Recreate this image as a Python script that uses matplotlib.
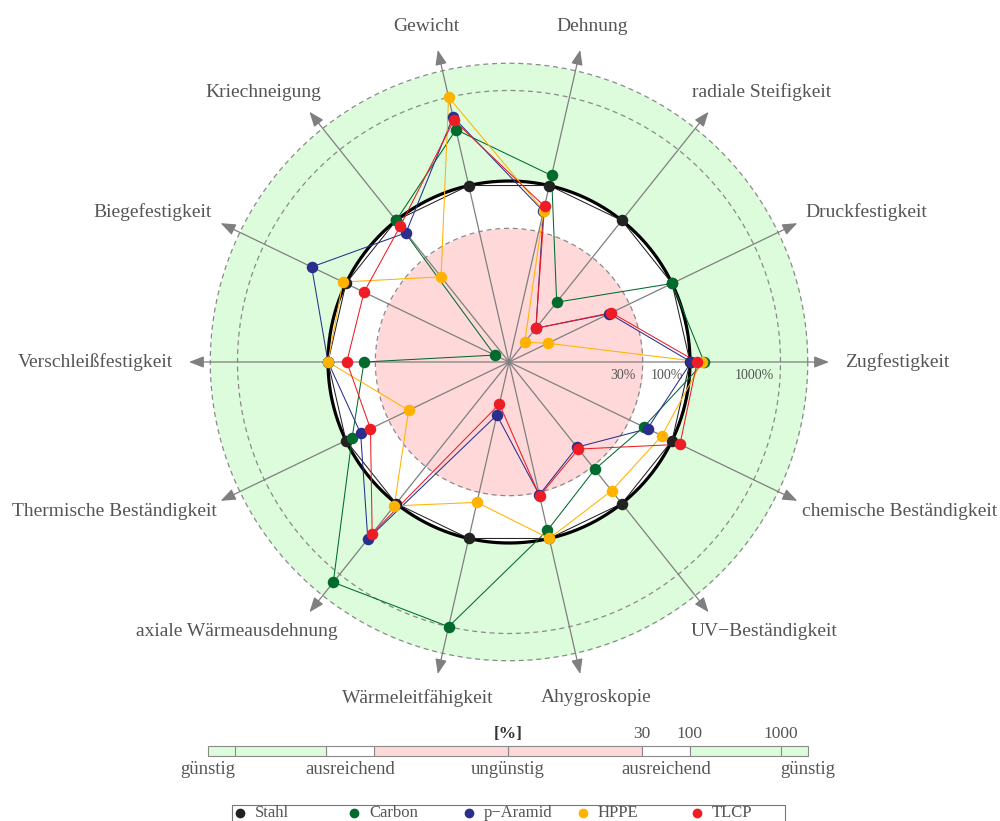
import numpy as np
import matplotlib.pyplot as plt
from matplotlib.lines import Line2D
from matplotlib.patches import Rectangle

plt.rcParams['font.family'] = ['Liberation Serif', 'DejaVu Serif']

# Kriterien (gegen den Uhrzeigersinn, ab 0°)
kriterien = ['Zugfestigkeit', 'Druckfestigkeit', 'radiale Steifigkeit', 'Dehnung',
             'Gewicht', 'Kriechneigung', 'Biegefestigkeit', 'Verschleißfestigkeit',
             'Thermische Beständigkeit', 'axiale Wärmeausdehnung', 'Wärmeleitfähigkeit',
             'Ahygroskopie', 'UV\u2212Beständigkeit', 'chemische Beständigkeit']

# Werte in % (Stahl = 100 %)
stahl  = [100, 100, 100, 100, 100, 100, 100, 100, 100, 100, 100, 100, 100, 100]
carbon = [143, 100, 7, 130, 430, 100, 1.5, 40, 84, 1300, 1000, 81, 33, 45]
aramid = [103, 17, 3, 51, 600, 67, 263, 100, 66, 318, 4, 32, 16, 50]
hppe   = [135, 3, 1.9, 52, 1000, 16, 109, 100, 17, 108, 39, 100, 66, 75]
tlcp   = [120, 18, 3, 58, 550, 84, 60, 62, 50, 266, 3, 33, 17, 125]

werkstoffe = ['Stahl', 'Carbon', 'p\u2212Aramid', 'HPPE', 'TLCP']
farben = ['#222222', '#006b2d', '#2b2e8c', '#ffb300', '#ee1c24']
serien = [stahl, carbon, aramid, hppe, tlcp]

grau = '#8a8a8a'
textgrau = '#555555'
gruen = '#dcfcdc'
rosa = '#ffd9d9'

fig = plt.figure(figsize=(10, 8.21), dpi=100)
ax = fig.add_axes([0.147, 97 / 821, 0.724, 724 / 821], projection='polar')
ax.set_rscale('log')
ax.set_rlim(1, 1e4)
ax.set_axis_off()

theta = np.deg2rad(np.arange(len(kriterien)) * 360 / len(kriterien))
th = np.linspace(0, 2 * np.pi, 500)

# Bereiche: ungünstig / ausreichend / günstig
ax.fill_between(th, 100, 2000, color=gruen, lw=0, zorder=0)
ax.fill_between(th, 30, 100, color='white', lw=0, zorder=0)
ax.fill_between(th, 1, 30, color=rosa, lw=0, zorder=0)
for v in [30, 1000, 2000]:
    ax.plot(th, np.full_like(th, v), ls=(0, (4, 3)), color=grau, lw=0.9, zorder=1)
ax.plot(th, np.full_like(th, 100), color='black', lw=2.3, zorder=3)

# Achsen mit Pfeilen
for t in theta:
    ax.annotate('', xy=(t, 3435), xytext=(t, 1),
                arrowprops=dict(arrowstyle='-|>,head_length=0.9,head_width=0.35',
                                color='#7f7f7f', lw=0.9, shrinkA=0, shrinkB=0),
                zorder=2)

for v, txt in [(30, '30%'), (100, '100%'), (1000, '1000%')]:
    ax.annotate(txt, xy=(0, v), xytext=(-5, -9.5), textcoords='offset points',
                ha='right', va='center', fontsize=10, color=textgrau)

# Datenreihen
for werte, farbe in zip(serien, farben):
    r = np.append(werte, werte[0])
    t = np.append(theta, theta[0])
    ax.plot(t, r, color=farbe, lw=0.75, zorder=4)
for werte, farbe in zip(serien, farben):
    ax.plot(theta, werte, 'o', color=farbe, ms=8.3, mec='none', zorder=5)

# Beschriftungen der Achsen
anns = []
for t, name in zip(theta, kriterien):
    a = ax.annotate(name, xy=(t, 5160), xytext=(0, 0), textcoords='offset points',
                    ha='center', va='center', fontsize=14, color=textgrau,
                    annotation_clip=False)
    anns.append(a)
fig.canvas.draw()
renderer = fig.canvas.get_renderer()
for a, t in zip(anns, theta):
    bb = a.get_window_extent(renderer)
    w = bb.width * 72 / fig.dpi
    h = bb.height * 72 / fig.dpi
    a.xyann = (np.cos(t) * w / 2, np.sin(t) * h / 2)

# Skala unten
bx = fig.add_axes([0.208, 65 / 821, 0.6, 10 / 821])
lim = np.log10(2000)
bx.set_xlim(-lim, lim)
bx.set_ylim(0, 1)
bx.set_axis_off()
bereiche = [(1, 30, rosa), (30, 100, 'white'), (100, 2000, gruen)]
for lo, hi, c in bereiche:
    for s in (1, -1):
        x0, x1 = sorted([s * np.log10(lo), s * np.log10(hi)])
        bx.add_patch(Rectangle((x0, 0), x1 - x0, 1, facecolor=c, edgecolor=grau,
                               lw=0.8, clip_on=False))
for x in [-3, 0, 3]:
    bx.plot([x, x], [0, 1], color=grau, lw=0.8)
bx.text(0, 1.4, '[%]', ha='center', va='bottom', fontsize=12.5, color='#333333',
        fontweight='bold')
for v in [30, 100, 1000]:
    bx.text(np.log10(v), 1.4, str(v), ha='center', va='bottom', fontsize=12.5,
            color=textgrau)
mitte = (np.log10(30) + 2) / 2
unten = [(-lim, 'günstig'), (-mitte, 'ausreichend'), (0, 'ungünstig'),
         (mitte, 'ausreichend'), (lim, 'günstig')]
for x, txt in unten:
    bx.text(x, -0.5, txt, ha='center', va='top', fontsize=13.5, color=textgrau)

# Legende
fig.add_artist(Rectangle((232 / 1000, -0.01), 553 / 1000, 16 / 821 + 0.01,
                         transform=fig.transFigure, facecolor='none',
                         edgecolor='#777777', lw=0.8))
for i, (name, farbe) in enumerate(zip(werkstoffe, farben)):
    x = (240 + i * 114.3) / 1000
    y = 8 / 821
    fig.add_artist(Line2D([x], [y], marker='o', ms=7, color=farbe, mec='none',
                          transform=fig.transFigure))
    fig.text(x + 15 / 1000, y, name, ha='left', va='center', fontsize=12,
             color=textgrau)

fig.savefig('out.png', dpi=100)
